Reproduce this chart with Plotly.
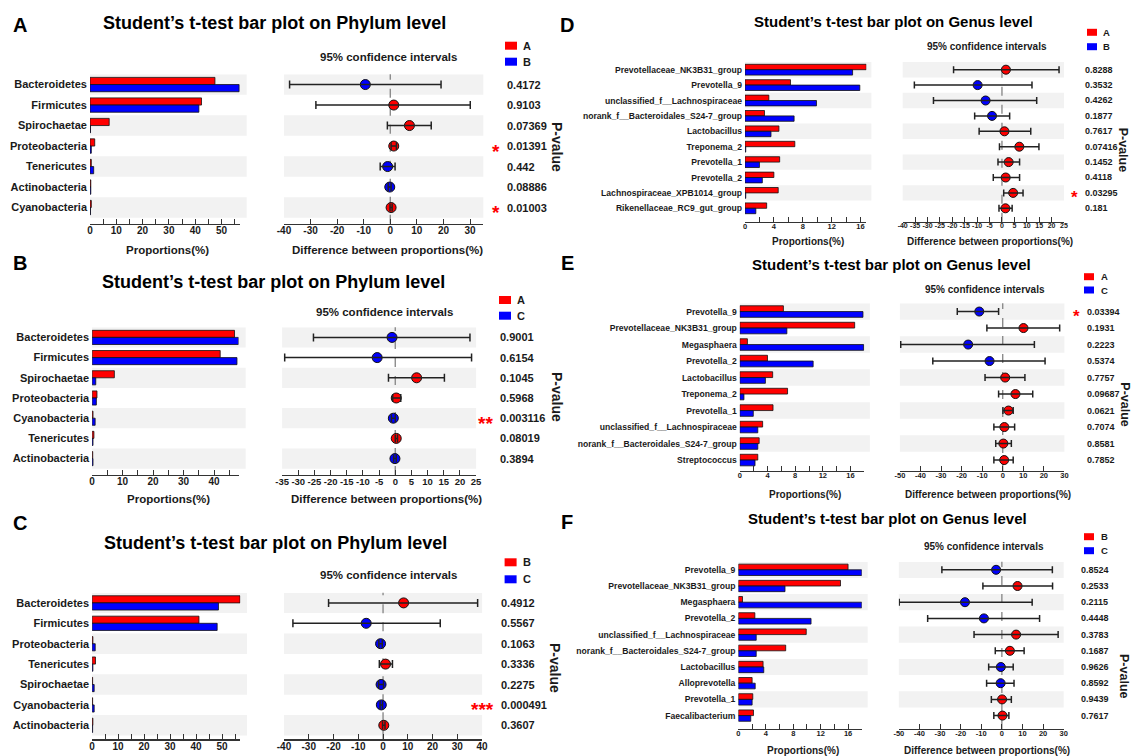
import plotly.graph_objects as go

W, H = 1133, 756
RED, BLUE = "#FF0000", "#0000FF"
FONT = "Arial, Liberation Sans, sans-serif"
TXT = "#1a1a1a"
AX = "#333333"

# ---------------- data ----------------
A_taxa = ["Bacteroidetes", "Firmicutes", "Spirochaetae", "Proteobacteria", "Tenericutes", "Actinobacteria", "Cyanobacteria"]
A_groups = ["A", "B"]
A_g1 = [47.5, 42.4, 7.3, 1.8, 0.5, 0.3, 0.5]
A_g2 = [56.7, 41.4, 0.2, 0.5, 1.4, 0.3, 0.2]
A_diff = [-9.4, 1.3, 7.2, 1.3, -1.0, -0.2, 0.3]
A_low = [-37.9, -28.0, -1.1, 0.3, -3.8, -0.8, -0.1]
A_high = [19.1, 30.1, 15.4, 2.3, 1.8, 0.3, 0.7]
A_p = ["0.4172", "0.9103", "0.07369", "0.01391", "0.442", "0.08886", "0.01003"]

B_taxa = ["Bacteroidetes", "Firmicutes", "Spirochaetae", "Proteobacteria", "Cyanobacteria", "Tenericutes", "Actinobacteria"]
B_groups = ["A", "C"]
B_g1 = [46.7, 42.0, 7.3, 1.6, 0.3, 0.6, 0.2]
B_g2 = [48.0, 47.5, 1.2, 1.4, 1.0, 0.3, 0.3]
B_diff = [-1.0, -5.6, 6.6, 0.3, -0.6, 0.3, -0.1]
B_low = [-25.3, -34.2, -2.1, -0.8, -1.2, 0.0, -0.5]
B_high = [23.1, 23.6, 15.2, 1.7, 0.0, 0.7, 0.3]
B_p = ["0.9001", "0.6154", "0.1045", "0.5968", "0.003116", "0.08019", "0.3894"]

C_taxa = ["Bacteroidetes", "Firmicutes", "Proteobacteria", "Tenericutes", "Spirochaetae", "Cyanobacteria", "Actinobacteria"]
C_groups = ["B", "C"]
C_g1 = [56.9, 41.1, 0.3, 1.3, 0.2, 0.2, 0.3]
C_g2 = [48.6, 48.1, 1.2, 0.3, 0.8, 0.8, 0.2]
C_diff = [8.3, -6.8, -1.0, 1.0, -0.8, -0.7, 0.3]
C_low = [-22.0, -36.4, -1.7, -1.5, -1.8, -1.2, -0.2]
C_high = [38.2, 23.1, -0.3, 3.8, 0.2, -0.2, 0.8]
C_p = ["0.4912", "0.5567", "0.1063", "0.3336", "0.2275", "0.000491", "0.3607"]

D_taxa = ["Prevotellaceae_NK3B31_group", "Prevotella_9", "unclassified_f__Lachnospiraceae",
          "norank_f__Bacteroidales_S24-7_group", "Lactobacillus", "Treponema_2", "Prevotella_1",
          "Prevotella_2", "Lachnospiraceae_XPB1014_group", "Rikenellaceae_RC9_gut_group"]
D_groups = ["A", "B"]
D_g1 = [16.8, 6.3, 3.3, 2.7, 4.7, 6.9, 4.8, 4.0, 4.6, 3.0]
D_g2 = [14.9, 15.9, 9.9, 6.8, 3.6, 0.1, 2.0, 2.4, 0.1, 1.5]
D_diff = [1.6, -9.8, -6.6, -4.0, 1.0, 7.0, 2.7, 1.5, 4.5, 1.4]
D_low = [-19.5, -35.3, -27.6, -11.0, -9.2, -1.0, -1.6, -3.5, 0.7, -1.2]
D_high = [23.0, 12.1, 14.0, 3.1, 11.6, 14.9, 7.1, 7.1, 8.5, 4.1]
D_p = ["0.8288", "0.3532", "0.4262", "0.1877", "0.7617", "0.07416", "0.1452", "0.4118", "0.03295", "0.181"]

E_taxa = ["Prevotella_9", "Prevotellaceae_NK3B31_group", "Megasphaera", "Prevotella_2", "Lactobacillus",
          "Treponema_2", "Prevotella_1", "unclassified_f__Lachnospiraceae",
          "norank_f__Bacteroidales_S24-7_group", "Streptococcus"]
E_groups = ["A", "C"]
E_g1 = [6.3, 16.6, 1.1, 4.0, 4.75, 6.9, 4.8, 3.3, 2.8, 2.6]
E_g2 = [17.8, 6.8, 17.9, 10.6, 3.7, 0.6, 1.95, 2.6, 2.6, 2.2]
E_diff = [-11.4, 10.1, -16.8, -6.4, 1.2, 6.2, 2.8, 0.8, 0.3, 0.7]
E_low = [-22.1, -7.7, -49.6, -34.0, -8.6, -2.0, 0.1, -4.3, -3.4, -4.3]
E_high = [-2.0, 27.7, 15.4, 20.6, 10.8, 14.6, 5.1, 5.8, 4.2, 5.1]
E_p = ["0.03394", "0.1931", "0.2223", "0.5374", "0.7757", "0.09687", "0.0621", "0.7074", "0.8581", "0.7852"]

F_taxa = ["Prevotella_9", "Prevotellaceae_NK3B31_group", "Megasphaera", "Prevotella_2",
          "unclassified_f__Lachnospiraceae", "norank_f__Bacteroidales_S24-7_group", "Lactobacillus",
          "Alloprevotella", "Prevotella_1", "Faecalibacterium"]
F_groups = ["B", "C"]
F_g1 = [16.0, 14.9, 0.6, 2.4, 9.9, 6.9, 3.6, 2.0, 2.1, 2.2]
F_g2 = [18.0, 6.8, 18.0, 10.6, 2.6, 2.6, 3.7, 2.45, 2.0, 1.8]
F_diff = [-2.8, 7.6, -17.9, -8.7, 6.9, 3.9, -0.5, -0.6, 0.1, 0.3]
F_low = [-29.1, -9.2, -49.8, -36.0, -13.5, -3.2, -6.4, -7.4, -5.1, -3.9]
F_high = [24.5, 24.6, 14.7, 18.3, 27.3, 10.8, 5.5, 5.9, 4.6, 3.4]
F_p = ["0.8524", "0.2533", "0.2115", "0.4448", "0.3783", "0.1687", "0.9626", "0.8592", "0.9439", "0.7617"]

LETTERS = ["A", "B", "C", "D", "E", "F"]
TITLES = ["Student\u2019s t-test bar plot on Phylum level"] * 3 + ["Student\u2019s t-test bar plot on Genus level"] * 3
DATA = [
    (A_taxa, A_groups, A_g1, A_g2, A_diff, A_low, A_high, A_p),
    (B_taxa, B_groups, B_g1, B_g2, B_diff, B_low, B_high, B_p),
    (C_taxa, C_groups, C_g1, C_g2, C_diff, C_low, C_high, C_p),
    (D_taxa, D_groups, D_g1, D_g2, D_diff, D_low, D_high, D_p),
    (E_taxa, E_groups, E_g1, E_g2, E_diff, E_low, E_high, E_p),
    (F_taxa, F_groups, F_g1, F_g2, F_diff, F_low, F_high, F_p),
]

# ---------------- layout geometry (pixels) ----------------
big = dict(title_fs=18, conf_fs=11.5, leg_fs=11, leg_w=12, leg_h=8, bar_dtick=10, bar_minor=5,
           p_fs=11, cat_fs=11, tick_fs=10, xt_fs=11.5, pv_fs=14, msize=10, cap=4, letter_fs=20, standoff=-3)
small = dict(title_fs=15, conf_fs=10, leg_fs=9.5, leg_w=10, leg_h=7, bar_dtick=4, bar_minor=2,
             p_fs=9, cat_fs=8.6, tick_fs=7.5, xt_fs=10, pv_fs=12.5, msize=9, cap=3.5, letter_fs=20, standoff=-3)
GEOM = [
    dict(big, letter=(20, 25), title=(274, 23.3), conf=(388, 56.7), leg_x=505, leg_y=(45.7, 61.7), leg_tx=521,
         bar_l=90, bar_max=57, ppu=2.63, band_end=246.7, rows_top=74.3, row_h=20.5, axis_py=223.7,
         ci_l=284, ci_r=483.3, ci_range=(-40, 35), ci_dtick=10, ci_fs=10, p_x=505,
         xt_y=250, bt_x=168, ct_x=387.5, pv=(557, 147)),
    dict(big, letter=(20, 263), title=(273, 281.7), conf=(384, 311.7), leg_x=499, leg_y=(300, 315.7), leg_tx=515,
         bar_l=92.1, bar_max=48, ppu=3.05, band_end=245.7, rows_top=327.3, row_h=20.2, axis_py=475,
         ci_l=282.1, ci_r=476.1, ci_range=(-35, 25), ci_dtick=5, ci_fs=9.5, p_x=498,
         xt_y=499.3, bt_x=168.8, ct_x=386.6, pv=(557, 397)),
    dict(big, letter=(20, 523), title=(275, 543.3), conf=(388, 575), leg_x=504.6, leg_y=(562.3, 579.3), leg_tx=521,
         bar_l=92.1, bar_max=57, ppu=2.6, band_end=247, rows_top=592.7, row_h=20.4, axis_py=739.3,
         ci_l=284, ci_r=482.1, ci_range=(-40, 40), ci_dtick=10, ci_fs=10, p_x=499,
         xt_y=None, bt_x=168, ct_x=387, pv=(555, 668)),
    dict(small, letter=(567, 25), title=(893.5, 21.7), conf=(987.3, 46.7), leg_x=1087, leg_y=(32.3, 46.7), leg_tx=1101,
         bar_l=745, bar_max=16.8, ppu=7.22, band_end=871.4, rows_top=62, row_h=15.4, axis_py=221.7,
         ci_l=902.7, ci_r=1064, ci_range=(-40, 25), ci_dtick=5, ci_fs=7, p_x=1082.7,
         xt_y=241.3, bt_x=807.8, ct_x=989.5, pv=(1123.3, 150)),
    dict(small, letter=(567, 263), title=(891.7, 264), conf=(985, 289.3), leg_x=1084, leg_y=(276.7, 290), leg_tx=1099,
         bar_l=739.8, bar_max=18, ppu=6.92, band_end=869.9, rows_top=303.3, row_h=16.5, axis_py=471,
         ci_l=899.9, ci_r=1064.4, ci_range=(-50, 30), ci_dtick=10, ci_fs=7.5, p_x=1084.5,
         xt_y=494, bt_x=804.9, ct_x=987.8, pv=(1124.7, 405)),
    dict(small, letter=(567, 521.7), title=(887.5, 518.3), conf=(984, 546.7), leg_x=1084, leg_y=(536.7, 550.7), leg_tx=1099,
         bar_l=738.4, bar_max=18, ppu=6.853, band_end=867.7, rows_top=561.7, row_h=16.2, axis_py=729,
         ci_l=898.8, ci_r=1063.7, ci_range=(-50, 30), ci_dtick=10, ci_fs=7.5, p_x=1079,
         xt_y=750, bt_x=803.4, ct_x=986.9, pv=(1124.7, 676.7)),
]


def px(x):
    return x / W


def py(y):
    return 1 - y / H


def sfx(i):
    return "" if i == 1 else str(i)


def bold(size, color=TXT):
    return dict(family=FONT, size=size, color=color, weight="bold")


def ticks_for(lo, hi, step):
    vals = []
    v = lo - (lo % step) if lo % step else lo
    while v <= hi + 1e-9:
        if v >= lo - 1e-9:
            vals.append(v)
        v += step
    return vals, [str(int(t)) if float(t).is_integer() else str(t) for t in vals]


fig = go.Figure()
layout = {}
shapes = []
annotations = []

for k, (dat, g) in enumerate(zip(DATA, GEOM)):
    taxa, groups, g1, g2, diff, low, high, pvals = dat
    n = len(taxa)
    rows = list(range(n))
    bi, ci = 2 * k + 1, 2 * k + 2
    bx, by, cx, cy = "x" + sfx(bi), "y" + sfx(bi), "x" + sfx(ci), "y" + sfx(ci)

    # bars
    for vals, col, name in ((g1, RED, groups[0]), (g2, BLUE, groups[1])):
        fig.add_trace(go.Bar(x=vals, y=rows, orientation="h", name=name, showlegend=False,
                             marker=dict(color=col, line=dict(color="#111", width=0.8)),
                             xaxis=bx, yaxis=by))
    # CI points (markers first, error bars drawn on top of them)
    for sign, col in ((1, RED), (-1, BLUE)):
        idx = [i for i in rows if (diff[i] > 0) == (sign > 0)]
        fig.add_trace(go.Scatter(
            x=[diff[i] for i in idx], y=idx, mode="markers", showlegend=False,
            marker=dict(size=g["msize"], color=col, line=dict(color="#111", width=1)),
            xaxis=cx, yaxis=cy))
    fig.add_trace(go.Scatter(
        x=diff, y=rows, mode="markers", showlegend=False,
        marker=dict(size=1, color="rgba(0,0,0,0)"),
        error_x=dict(type="data", symmetric=False,
                     array=[h - d for h, d in zip(high, diff)],
                     arrayminus=[d - lo for d, lo in zip(diff, low)],
                     color="#222222", thickness=1.5, width=g["cap"]),
        xaxis=cx, yaxis=cy))

    bar_r = g["bar_l"] + g["bar_max"] * g["ppu"]
    band_ratio = (g["band_end"] - g["bar_l"]) / (bar_r - g["bar_l"])
    rows_bottom = g["rows_top"] + n * g["row_h"]
    extra = (g["axis_py"] - rows_bottom) / g["row_h"]
    ydom = [py(g["axis_py"]), py(g["rows_top"])]
    yrange = [n - 0.5 + extra, -0.5]

    bt_vals, bt_text = ticks_for(0, g["bar_max"], g["bar_dtick"])
    ct_vals, ct_text = ticks_for(g["ci_range"][0], g["ci_range"][1], g["ci_dtick"])

    xcommon = dict(showline=True, linecolor=AX, linewidth=1.2, ticks="inside", ticklen=5,
                   tickcolor=AX, tickwidth=1, showgrid=False, zeroline=False, fixedrange=True,
                   tickangle=0, ticklabelstandoff=g["standoff"])
    layout["xaxis" + sfx(bi)] = dict(xcommon, domain=[px(g["bar_l"]), px(bar_r)], range=[0, g["bar_max"]],
                                     anchor=by, tickmode="array", tickvals=bt_vals, ticktext=bt_text,
                                     minor=dict(dtick=g["bar_minor"], tick0=0, ticks="inside", ticklen=5,
                                                tickcolor=AX),
                                     tickfont=bold(g["tick_fs"]))
    layout["yaxis" + sfx(bi)] = dict(domain=ydom, range=yrange, anchor=bx, tickvals=rows, ticktext=taxa,
                                     ticks="", showline=False, showgrid=False, zeroline=False,
                                     tickfont=bold(g["cat_fs"]), ticklabelstandoff=2, fixedrange=True)
    layout["xaxis" + sfx(ci)] = dict(xcommon, domain=[px(g["ci_l"]), px(g["ci_r"])], range=list(g["ci_range"]),
                                     anchor=cy, tickmode="array", tickvals=ct_vals, ticktext=ct_text,
                                     tickfont=bold(g["ci_fs"]))
    layout["yaxis" + sfx(ci)] = dict(domain=ydom, range=yrange, anchor=cx, showticklabels=False,
                                     ticks="", showline=False, showgrid=False, zeroline=False, fixedrange=True)

    # alternating row bands
    for i in range(0, n, 2):
        shapes.append(dict(type="rect", xref=bx + " domain", x0=0, x1=band_ratio, yref=by, y0=i - 0.5, y1=i + 0.5,
                           fillcolor="#F2F2F2", line=dict(width=0), layer="below"))
        shapes.append(dict(type="rect", xref=cx + " domain", x0=0, x1=1, yref=cy, y0=i - 0.5, y1=i + 0.5,
                           fillcolor="#F2F2F2", line=dict(width=0), layer="below"))
    # zero dashed line
    shapes.append(dict(type="line", xref=cx, x0=0, x1=0, yref=cy + " domain", y0=0, y1=1,
                       line=dict(color="#8c8c8c", width=1.4, dash="dash"), layer="below"))

    # legend swatches
    for (yy, col, name) in ((g["leg_y"][0], RED, groups[0]), (g["leg_y"][1], BLUE, groups[1])):
        shapes.append(dict(type="rect", xref="paper", yref="paper",
                           x0=px(g["leg_x"]), x1=px(g["leg_x"] + g["leg_w"]),
                           y0=py(yy + g["leg_h"] / 2), y1=py(yy - g["leg_h"] / 2),
                           fillcolor=col, line=dict(width=0)))
        annotations.append(dict(xref="paper", yref="paper", x=px(g["leg_tx"]), y=py(yy), text=name,
                                showarrow=False, xanchor="left", yanchor="middle", font=bold(g["leg_fs"])))

    # p-values and stars
    for i, p in enumerate(pvals):
        annotations.append(dict(xref="paper", yref=cy, x=px(g["p_x"]), y=i, text=p, showarrow=False,
                                xanchor="left", yanchor="middle", font=bold(g["p_fs"])))
        pv = float(p)
        nstar = 3 if pv < 0.001 else 2 if pv < 0.01 else 1 if pv < 0.05 else 0
        if nstar:
            annotations.append(dict(xref="paper", yref=cy, x=px(g["p_x"] - 3), y=i, text="*" * nstar,
                                    showarrow=False, xanchor="right", yanchor="middle", yshift=-5,
                                    font=bold(g["p_fs"] + 8, RED)))

    # texts
    annotations.append(dict(xref="paper", yref="paper", x=px(g["letter"][0]), y=py(g["letter"][1]),
                            text=LETTERS[k], showarrow=False, xanchor="center", yanchor="middle",
                            font=bold(g["letter_fs"], "#000")))
    annotations.append(dict(xref="paper", yref="paper", x=px(g["title"][0]), y=py(g["title"][1]),
                            text=TITLES[k], showarrow=False, xanchor="center", yanchor="middle",
                            font=bold(g["title_fs"], "#000")))
    annotations.append(dict(xref="paper", yref="paper", x=px(g["conf"][0]), y=py(g["conf"][1]),
                            text="95% confidence intervals", showarrow=False, xanchor="center",
                            yanchor="middle", font=bold(g["conf_fs"])))
    if g["xt_y"] is not None:
        annotations.append(dict(xref="paper", yref="paper", x=px(g["bt_x"]), y=py(g["xt_y"]),
                                text="Proportions(%)", showarrow=False, xanchor="center", yanchor="middle",
                                font=bold(g["xt_fs"])))
        annotations.append(dict(xref="paper", yref="paper", x=px(g["ct_x"]), y=py(g["xt_y"]),
                                text="Difference between proportions(%)", showarrow=False, xanchor="center",
                                yanchor="middle", font=bold(g["xt_fs"])))
    annotations.append(dict(xref="paper", yref="paper", x=px(g["pv"][0]), y=py(g["pv"][1]),
                            text="P-value", textangle=90, showarrow=False, xanchor="center",
                            yanchor="middle", font=bold(g["pv_fs"])))

fig.update_layout(
    template="none",
    width=W, height=H,
    margin=dict(l=0, r=0, t=0, b=0),
    paper_bgcolor="white", plot_bgcolor="rgba(0,0,0,0)",
    barmode="group", bargap=0.3, bargroupgap=0,
    showlegend=False,
    shapes=shapes, annotations=annotations,
    font=dict(family=FONT, color=TXT),
    **layout,
)

fig.write_html("out.html", config={"displayModeBar": False, "staticPlot": True},
               post_script="document.body.style.margin='0';document.body.style.overflow='hidden';")
